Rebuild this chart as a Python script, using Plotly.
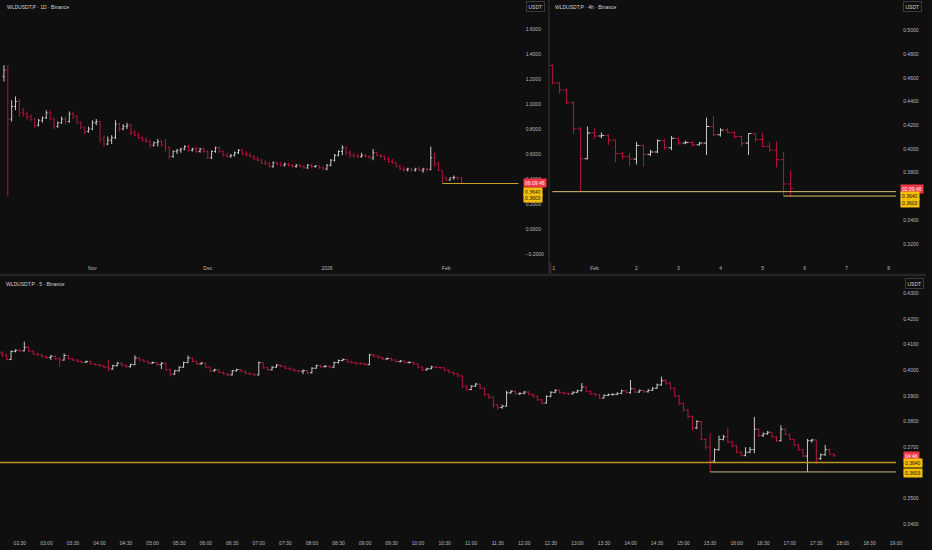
import pandas as pd
import plotly.graph_objects as go

W, H = 932, 550
BG = "#0f0f10"
UP = "#c8c8c8"
DOWN = "#b3163a"
TXT = "#b8b8b8"
FONT = "Liberation Sans"

# ---------------- WLDUSDT.P daily bars (2025-10-09 .. 2026-02-05) ----------------
day_start = "2025-10-09"
day_open = [
    1.22, 1.27, .88, .98, 1.02, .93, .92, .90, .88, .83,
    .87, .89, .93, .88, .82, .85, .88, .86, .92, .90,
    .85, .81, .78, .80, .85, .86, .72, .68, .71, .73,
    .84, .80, .82, .83, .77, .75, .73, .71, .70, .67,
    .69, .70, .67, .65, .58, .62, .63, .64, .66, .63,
    .64, .62, .64, .62, .57, .62, .65, .62, .59, .58,
    .59, .61, .63, .60, .59, .58, .56, .55, .53, .52,
    .50, .53, .52, .51, .52, .51, .50, .51, .50, .49,
    .51, .50, .505, .49, .48, .51, .55, .59, .62, .65,
    .61, .59, .585, .58, .59, .58, .57, .61, .59, .58,
    .56, .54, .53, .50, .48, .475, .48, .47, .48, .47,
    .48, .475, .57, .52, .4705, .4135, .3915, .4090, .4120, .4080,
]
day_high = [
    1.31, 1.31, 1.03, 1.06, 1.04, .97, .94, .92, .89, .88,
    .90, .95, .95, .89, .86, .90, .90, .94, .94, .91,
    .86, .82, .82, .87, .88, .86, .75, .74, .75, .87,
    .85, .84, .85, .84, .79, .77, .74, .73, .71, .70,
    .72, .71, .72, .66, .63, .64, .65, .67, .67, .65,
    .66, .65, .65, .63, .63, .66, .66, .63, .61, .60,
    .62, .64, .64, .62, .61, .59, .58, .56, .55, .54,
    .54, .54, .54, .53, .53, .52, .52, .52, .51, .52,
    .52, .51, .51, .50, .52, .56, .60, .63, .67, .66,
    .63, .61, .60, .61, .60, .59, .64, .62, .60, .59,
    .58, .56, .54, .52, .50, .49, .49, .49, .50, .49,
    .49, .66, .61, .535, .4712, .4175, .4110, .4280, .4175, .4135,
]
day_low = [
    1.18, .26, .86, .95, .90, .90, .87, .86, .81, .82,
    .85, .88, .87, .80, .81, .84, .84, .85, .88, .84,
    .80, .76, .77, .79, .83, .69, .66, .67, .68, .72,
    .78, .79, .80, .75, .74, .72, .70, .69, .65, .66,
    .66, .66, .62, .56, .57, .60, .61, .63, .62, .62,
    .61, .61, .61, .56, .56, .61, .61, .58, .57, .57,
    .58, .60, .59, .58, .57, .55, .54, .52, .51, .49,
    .49, .51, .50, .50, .50, .49, .49, .49, .48, .48,
    .49, .49, .48, .47, .47, .50, .54, .58, .59, .59,
    .57, .57, .57, .57, .57, .56, .55, .58, .57, .55,
    .53, .52, .49, .47, .46, .46, .46, .46, .46, .45,
    .46, .47, .50, .465, .3640, .3855, .3850, .3950, .3950, .3603,
]
day_close = [
    1.27, .88, .98, 1.02, .93, .92, .90, .88, .83, .87,
    .89, .93, .88, .82, .85, .88, .86, .92, .90, .85,
    .81, .78, .80, .85, .86, .72, .68, .71, .73, .84,
    .80, .82, .83, .77, .75, .73, .71, .70, .67, .69,
    .70, .67, .65, .58, .62, .63, .64, .66, .63, .64,
    .62, .64, .62, .57, .62, .65, .62, .59, .58, .59,
    .61, .63, .60, .59, .58, .56, .55, .53, .52, .50,
    .53, .52, .51, .52, .51, .50, .51, .50, .49, .51,
    .50, .505, .49, .48, .51, .55, .59, .62, .65, .61,
    .59, .585, .58, .59, .58, .57, .61, .59, .58, .56,
    .54, .53, .50, .48, .475, .48, .47, .48, .47, .48,
    .475, .57, .52, .4705, .4135, .3915, .4090, .4120, .4080, .3666,
]

# ---------------- 4h bars (2026-01-31 00:00 .. 2026-02-05 16:00) ----------------
h4_start = "2026-01-31 00:00"
h4_open = [
    .4705, .4556, .4498, .4390, .4170, .3918, .4135, .4110, .4115, .4075,
    .3960, .3935, .3915, .4030, .3955, .3975, .4070, .4010, .4090, .4050,
    .4055, .4035, .4050, .4190, .4120, .4160, .4140, .4105, .4050, .4130,
    .4080, .4022, .3990, .3910, .3705,
]
h4_high = [
    .4712, .4566, .4506, .4405, .4185, .4190, .4175, .4140, .4125, .4080,
    .3975, .3965, .4060, .4035, .3995, .4080, .4085, .4110, .4095, .4070,
    .4065, .4060, .4265, .4280, .4175, .4175, .4150, .4115, .4135, .4135,
    .4135, .4058, .4064, .3975, .3818,
]
h4_low = [
    .4548, .4470, .4380, .4125, .3640, .3912, .4085, .4090, .4035, .3890,
    .3915, .3855, .3870, .3850, .3940, .3965, .3995, .3990, .4030, .4040,
    .4020, .4030, .3950, .4110, .4105, .4130, .4090, .4020, .3950, .4060,
    .4020, .3975, .3845, .3603, .3604,
]
h4_close = [
    .4556, .4498, .4390, .4170, .3918, .4135, .4110, .4115, .4075, .3960,
    .3935, .3915, .4030, .3955, .3975, .4070, .4010, .4090, .4050, .4055,
    .4035, .4050, .4190, .4120, .4160, .4140, .4105, .4050, .4130, .4080,
    .4022, .3990, .3910, .3705, .3666,
]

# ---------------- 5m bars (2026-02-05 02:10 .. 17:50) ----------------
m5_start = "2026-02-05 02:10"
m5_open = [
    .4068, .4060, .4042, .4074, .4078, .4076, .4090, .4075, .4064, .4060,
    .4053, .4050, .4055, .4045, .4040, .4058, .4045, .4040, .4035, .4032,
    .4034, .4025, .4022, .4018, .4012, .4005, .4018, .4028, .4020, .4014,
    .4022, .4048, .4040, .4035, .4028, .4030, .4022, .4028, .4002, .3985,
    .3998, .4012, .4030, .4048, .4035, .4025, .4028, .4012, .3998, .4002,
    .3992, .3986, .3982, .3998, .4003, .3996, .3988, .3985, .3982, .4030,
    .4010, .4002, .4012, .4020, .4015, .4008, .4004, .3998, .3996, .3999,
    .3990, .4008, .4018, .4014, .4016, .4012, .4030, .4038, .4042, .4033,
    .4030, .4027, .4026, .4022, .4060, .4055, .4050, .4044, .4046, .4040,
    .4034, .4036, .4030, .4031, .4025, .4012, .4002, .4006, .4013, .4011,
    .4010, .4000, .3992, .3986, .3978, .3938, .3925, .3938, .3946, .3930,
    .3905, .3895, .3865, .3855, .3860, .3912, .3918, .3908, .3910, .3915,
    .3906, .3898, .3885, .3872, .3898, .3914, .3922, .3912, .3910, .3908,
    .3914, .3920, .3935, .3918, .3908, .3904, .3892, .3902, .3905, .3906,
    .3910, .3920, .3913, .3928, .3915, .3921, .3916, .3922, .3930, .3943,
    .3960, .3950, .3930, .3900, .3870, .3845, .3820, .3775, .3800, .3730,
    .3700, .3645, .3690, .3730, .3740, .3720, .3705, .3680, .3668, .3680,
    .3690, .3770, .3745, .3752, .3758, .3740, .3725, .3770, .3750, .3730,
    .3708, .3690, .3665, .3725, .3728, .3655, .3670, .3690, .3672,
]
m5_high = [
    .4075, .4064, .4078, .4082, .4082, .4112, .4094, .4078, .4068, .4063,
    .4057, .4060, .4058, .4049, .4066, .4060, .4048, .4043, .4038, .4038,
    .4037, .4028, .4025, .4021, .4040, .4022, .4032, .4031, .4023, .4026,
    .4058, .4051, .4043, .4038, .4034, .4033, .4032, .4030, .4005, .4002,
    .4016, .4034, .4058, .4050, .4038, .4032, .4030, .4015, .4006, .4004,
    .3995, .3989, .4001, .4006, .4005, .3999, .3991, .3988, .4034, .4032,
    .4013, .4016, .4024, .4023, .4018, .4011, .4007, .4001, .4003, .4002,
    .4012, .4022, .4021, .4020, .4019, .4034, .4042, .4046, .4045, .4036,
    .4033, .4031, .4029, .4064, .4063, .4058, .4053, .4050, .4049, .4043,
    .4040, .4039, .4035, .4034, .4028, .4015, .4010, .4018, .4016, .4014,
    .4012, .4003, .3995, .3989, .3980, .3941, .3942, .3950, .3948, .3932,
    .3908, .3897, .3868, .3866, .3920, .3922, .3921, .3914, .3919, .3918,
    .3909, .3900, .3888, .3902, .3918, .3926, .3925, .3916, .3913, .3918,
    .3924, .3950, .3937, .3921, .3911, .3907, .3906, .3909, .3910, .3914,
    .3924, .3923, .3962, .3931, .3925, .3924, .3926, .3934, .3948, .3975,
    .3964, .3953, .3933, .3903, .3873, .3848, .3822, .3805, .3802, .3735,
    .3754, .3695, .3745, .3748, .3775, .3723, .3708, .3684, .3700, .3700,
    .3818, .3773, .3757, .3763, .3760, .3743, .3785, .3773, .3753, .3733,
    .3711, .3693, .3732, .3732, .3730, .3675, .3708, .3694, .3675,
]
m5_low = [
    .4052, .4038, .4040, .4070, .4072, .4074, .4070, .4060, .4056, .4049,
    .4044, .4040, .4042, .4014, .4038, .4042, .4036, .4031, .4028, .4029,
    .4022, .4018, .4014, .4008, .3995, .4002, .4015, .4016, .4010, .4011,
    .4020, .4036, .4031, .4024, .4025, .4018, .4005, .3998, .3975, .3982,
    .3995, .4010, .4028, .4032, .4021, .4022, .4008, .3994, .3995, .3988,
    .3982, .3978, .3980, .3995, .3992, .3985, .3981, .3978, .3980, .4006,
    .3998, .4000, .4010, .4011, .4004, .4000, .3994, .3992, .3985, .3986,
    .3988, .4006, .4010, .4011, .4008, .4010, .4027, .4035, .4030, .4026,
    .4023, .4022, .4018, .4020, .4051, .4046, .4040, .4041, .4036, .4030,
    .4031, .4026, .4027, .4021, .4008, .3998, .3999, .4004, .4008, .4006,
    .3996, .3988, .3982, .3972, .3930, .3920, .3922, .3935, .3925, .3900,
    .3888, .3850, .3845, .3850, .3858, .3908, .3904, .3903, .3906, .3902,
    .3894, .3880, .3866, .3870, .3895, .3911, .3908, .3906, .3904, .3905,
    .3911, .3918, .3914, .3904, .3900, .3888, .3890, .3899, .3901, .3903,
    .3907, .3909, .3908, .3911, .3912, .3912, .3913, .3919, .3927, .3940,
    .3944, .3925, .3895, .3864, .3838, .3812, .3765, .3770, .3725, .3690,
    .3603, .3640, .3686, .3726, .3716, .3700, .3676, .3662, .3664, .3676,
    .3676, .3740, .3740, .3748, .3736, .3720, .3722, .3746, .3726, .3704,
    .3686, .3660, .3604, .3718, .3632, .3650, .3666, .3668, .3662,
]
m5_close = [
    .4060, .4042, .4074, .4078, .4076, .4090, .4075, .4064, .4060, .4053,
    .4050, .4055, .4045, .4040, .4058, .4045, .4040, .4035, .4032, .4034,
    .4025, .4022, .4018, .4012, .4005, .4018, .4028, .4020, .4014, .4022,
    .4048, .4040, .4035, .4028, .4030, .4022, .4028, .4002, .3985, .3998,
    .4012, .4030, .4048, .4035, .4025, .4028, .4012, .3998, .4002, .3992,
    .3986, .3982, .3998, .4003, .3996, .3988, .3985, .3982, .4030, .4010,
    .4002, .4012, .4020, .4015, .4008, .4004, .3998, .3996, .3999, .3990,
    .4008, .4018, .4014, .4016, .4012, .4030, .4038, .4042, .4033, .4030,
    .4027, .4026, .4022, .4060, .4055, .4050, .4044, .4046, .4040, .4034,
    .4036, .4030, .4031, .4025, .4012, .4002, .4006, .4013, .4011, .4010,
    .4000, .3992, .3986, .3978, .3938, .3925, .3938, .3946, .3930, .3905,
    .3895, .3865, .3855, .3860, .3912, .3918, .3908, .3910, .3915, .3906,
    .3898, .3885, .3872, .3898, .3914, .3922, .3912, .3910, .3908, .3914,
    .3920, .3935, .3918, .3908, .3904, .3892, .3902, .3905, .3906, .3910,
    .3920, .3913, .3928, .3915, .3921, .3916, .3922, .3930, .3943, .3960,
    .3950, .3930, .3900, .3870, .3845, .3820, .3775, .3800, .3730, .3700,
    .3645, .3690, .3730, .3740, .3720, .3705, .3680, .3668, .3680, .3690,
    .3770, .3745, .3752, .3758, .3740, .3725, .3770, .3750, .3730, .3708,
    .3690, .3665, .3725, .3728, .3655, .3670, .3690, .3672, .3666,
]

# Horizontal levels and the countdown labels on the price scales
level_hi = 0.3640
level_lo = 0.3603
level_hi_from = "2026-01-31 00:00"
level_lo_from = "2026-02-05 15:30"
last_price = m5_close[-1]
countdown = {"1D": "06:09:46", "4h": "02:09:46", "5": "04:46"}

# Axis ticks
day_tickvals = ["2025-11-01", "2025-12-01", "2026-01-01", "2026-02-01"]
day_ticktext = ["Nov", "Dec", "2026", "Feb"]
day_yticks = [-0.2, 0.0, 0.2, 0.4, 0.6, 0.8, 1.0, 1.2, 1.4, 1.6]
h4_tickvals = ["2026-01-31"] + [f"2026-02-0{d}" for d in range(1, 9)]
h4_ticktext = ["31", "Feb", "2", "3", "4", "5", "6", "7", "8"]
h4_yticks = [0.32, 0.34, 0.36, 0.38, 0.40, 0.42, 0.44, 0.46, 0.48, 0.50]
m5_ticktext = ["02:30", "03:00", "03:30", "04:00", "04:30", "05:00", "05:30", "06:00",
               "06:30", "07:00", "07:30", "08:00", "08:30", "09:00", "09:30", "10:00",
               "10:30", "11:00", "11:30", "12:00", "12:30", "13:00", "13:30", "14:00",
               "14:30", "15:00", "15:30", "16:00", "16:30", "17:00", "17:30", "18:00",
               "18:30", "19:00"]
m5_tickvals = ["2026-02-05 " + t for t in m5_ticktext]
m5_yticks = [0.34, 0.35, 0.36, 0.37, 0.38, 0.39, 0.40, 0.41, 0.42, 0.43]

day_x = pd.date_range(day_start, periods=len(day_close), freq="D")
h4_x = pd.date_range(h4_start, periods=len(h4_close), freq="4h")
m5_x = pd.date_range(m5_start, periods=len(m5_close), freq="5min")


def px(p):
    return p / W


def py(p):
    return 1 - p / H


# pane geometry in pixels
TOP_B = 262
L_RIGHT = 522
R_LEFT, R_RIGHT = 553, 902
B_TOP, B_BOT = 277, 537

# visible windows of each time scale
day_x0 = pd.Timestamp("2025-11-01") - pd.Timedelta(days=93 / 3.87)
day_x1 = pd.Timestamp("2025-11-01") + pd.Timedelta(days=(L_RIGHT - 93) / 3.87)
h4_x0 = pd.Timestamp("2026-01-31") - pd.Timedelta(days=(556 - R_LEFT) / 42.3)
h4_x1 = pd.Timestamp("2026-01-31") + pd.Timedelta(days=(R_RIGHT - 556) / 42.3)
m5_x0 = pd.Timestamp("2026-02-05 02:30") - pd.Timedelta(minutes=20 / 26.72 * 30)
m5_x1 = pd.Timestamp("2026-02-05 02:30") + pd.Timedelta(minutes=(R_RIGHT - 20) / 26.72 * 30)

fig = go.Figure()


def add_bars(x, o, h, l, c, xa, ya, tw):
    fig.add_trace(go.Ohlc(
        x=x, open=o, high=h, low=l, close=c, xaxis=xa, yaxis=ya,
        increasing=dict(line=dict(color=UP, width=1)),
        decreasing=dict(line=dict(color=DOWN, width=1)),
        tickwidth=tw, hoverinfo="skip", showlegend=False,
    ))


add_bars(day_x, day_open, day_high, day_low, day_close, "x", "y", 0.35)
add_bars(h4_x, h4_open, h4_high, h4_low, h4_close, "x2", "y2", 0.42)
add_bars(m5_x, m5_open, m5_high, m5_low, m5_close, "x3", "y3", 0.42)

tick_font = dict(family=FONT, size=5, color=TXT)


def xaxis(domain, rng, vals, text, anchor):
    return dict(domain=domain, range=rng, anchor=anchor, type="date",
                tickvals=vals, ticktext=text, tickfont=tick_font,
                showgrid=False, zeroline=False, showline=False, ticks="",
                ticklabelstandoff=2, rangeslider=dict(visible=False), fixedrange=True)


def yaxis(domain, rng, vals, anchor):
    return dict(domain=domain, range=rng, anchor=anchor, side="right",
                tickvals=vals, tickformat=".4f", tickfont=tick_font,
                showgrid=False, zeroline=False, showline=False, ticks="",
                ticklabelstandoff=6, fixedrange=True)


fig.update_layout(
    width=W, height=H, autosize=False, margin=dict(l=0, r=0, t=0, b=0, pad=0),
    paper_bgcolor=BG, plot_bgcolor=BG, showlegend=False,
    font=dict(family=FONT, size=5, color=TXT),
    xaxis=xaxis([0, px(L_RIGHT)], [day_x0, day_x1], day_tickvals, day_ticktext, "y"),
    yaxis=yaxis([py(TOP_B), 1], [(229 - TOP_B) / 125, 229 / 125], day_yticks, "x"),
    xaxis2=xaxis([px(R_LEFT), px(R_RIGHT)], [h4_x0, h4_x1], h4_tickvals, h4_ticktext, "y2"),
    yaxis2=yaxis([py(TOP_B), 1], [0.40 - (TOP_B - 149) / 1185, 0.40 + 149 / 1185], h4_yticks, "x2"),
    xaxis3=xaxis([0, px(R_RIGHT)], [m5_x0, m5_x1], m5_tickvals, m5_ticktext, "y3"),
    yaxis3=yaxis([py(B_BOT), py(B_TOP)], [0.40 - (B_BOT - 370.3) / 2560, 0.40 + (370.3 - B_TOP) / 2560], m5_yticks, "x3"),
)

shapes = []
# level rays
shapes.append(dict(type="line", xref="x", yref="y", x0=level_hi_from, x1=day_x1,
                   y0=level_hi, y1=level_hi, line=dict(color="#c9a227", width=1)))
shapes.append(dict(type="line", xref="x2", yref="y2", x0=level_hi_from, x1=h4_x1,
                   y0=level_hi, y1=level_hi, line=dict(color="#d6c36a", width=1)))
shapes.append(dict(type="line", xref="x2", yref="y2", x0="2026-02-05 12:00", x1=h4_x1,
                   y0=level_lo, y1=level_lo, line=dict(color="#d6c36a", width=1)))
shapes.append(dict(type="line", xref="x3", yref="y3", x0=m5_x0, x1=m5_x1,
                   y0=level_hi, y1=level_hi, line=dict(color="#bf9524", width=1.5)))
shapes.append(dict(type="line", xref="x3", yref="y3", x0=level_lo_from, x1=m5_x1,
                   y0=level_lo, y1=level_lo, line=dict(color="#cdb789", width=1)))
# pane separators
shapes.append(dict(type="line", xref="paper", yref="paper", x0=px(552.5), x1=px(552.5),
                   y0=py(274), y1=1, line=dict(color="#2a2a2c", width=1.5), layer="above"))
shapes.append(dict(type="line", xref="paper", yref="paper", x0=0, x1=1,
                   y0=py(275), y1=py(275), line=dict(color="#262628", width=2.5), layer="above"))
fig.update_layout(shapes=shapes)

ann = []
# the 4h time scale is clipped at its pane edge: mask the part left of the divider
ann.append(dict(xref="paper", yref="paper", x=px(546), y=py(268), xanchor="left", yanchor="middle",
                text="", width=9, height=9, bgcolor=BG, borderpad=0, showarrow=False))
ann.append(dict(xref="paper", yref="paper", x=px(551.8), y=py(268), xanchor="left", yanchor="middle",
                text="", width=1.5, height=10, bgcolor="#2a2a2c", borderpad=0, showarrow=False))

title_font = dict(family=FONT, size=5, color="#d4d4d4")
for x, y, t in [(5, 7, "WLDUSDT.P · 1D · Binance"),
                (557, 7, "WLDUSDT.P · 4h · Binance"),
                (4, 283.5, "WLDUSDT.P · 5 · Binance")]:
    ann.append(dict(xref="paper", yref="paper", x=px(x), y=py(y), text=t, showarrow=False,
                    xanchor="left", yanchor="middle", font=title_font))
for x, y in [(538.5, 7), (918, 7), (920, 283.5)]:
    ann.append(dict(xref="paper", yref="paper", x=px(x), y=py(y), text="USDT", showarrow=False,
                    xanchor="center", yanchor="middle", font=dict(family=FONT, size=5, color="#d4d4d4"),
                    bgcolor=BG, bordercolor="#3a3a3c", borderwidth=1, borderpad=1.5))


def price_tags(xpx, yref, shifts, key):
    red = dict(xref="paper", yref=yref, x=px(xpx), y=last_price, text=countdown[key],
               showarrow=False, xanchor="left", yanchor="middle", yshift=shifts[0],
               font=dict(family=FONT, size=5, color="#ffffff"), bgcolor="#f23645", borderpad=1)
    hi = dict(xref="paper", yref=yref, x=px(xpx), y=level_hi, text=f"{level_hi:.4f}",
              showarrow=False, xanchor="left", yanchor="middle", yshift=shifts[1],
              font=dict(family=FONT, size=5, color="#111111"), bgcolor="#f5bf0a", borderpad=1)
    lo = dict(xref="paper", yref=yref, x=px(xpx), y=level_lo, text=f"{level_lo:.4f}",
              showarrow=False, xanchor="left", yanchor="middle", yshift=shifts[2],
              font=dict(family=FONT, size=5, color="#111111"), bgcolor="#f5bf0a", borderpad=1)
    return [red, hi, lo]


ann += price_tags(526, "y", (0, -8.2, -14.3), "1D")
ann += price_tags(906, "y2", (0, -4.1, -6.8), "4h")
ann += price_tags(909, "y3", (0, -0.8, -0.8), "5")
fig.update_layout(annotations=ann)

fig.write_html("out.html", config={"displayModeBar": False, "responsive": False})
